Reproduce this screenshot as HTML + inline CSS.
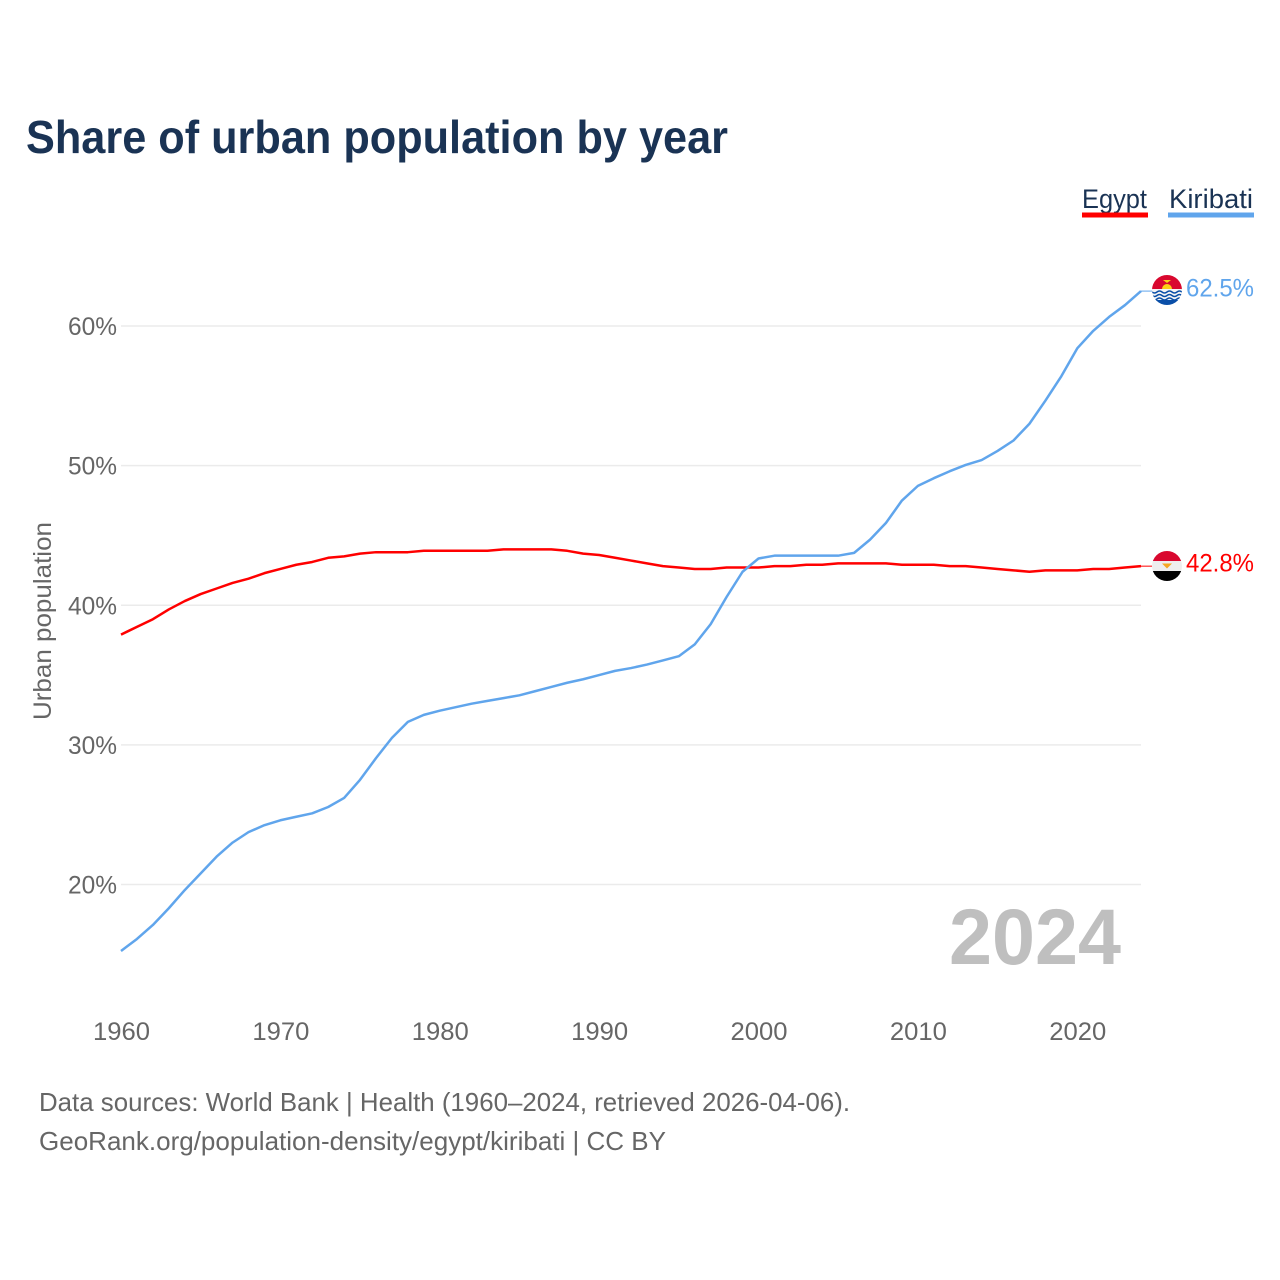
<!DOCTYPE html>
<html lang="en">
<head>
<meta charset="utf-8">
<title>Share of urban population by year</title>
<style>
html,body{margin:0;padding:0;background:#fff;width:1280px;height:1280px;overflow:hidden}
svg{display:block}
text{font-family:"Liberation Sans",sans-serif}
</style>
</head>
<body>
<svg id="chart" xmlns="http://www.w3.org/2000/svg" width="1280" height="1280" viewBox="0 0 1280 1280">
  <defs>
    <clipPath id="clip-ki"><circle cx="1167" cy="290" r="15"/></clipPath>
    <clipPath id="clip-eg"><circle cx="1167" cy="566" r="15"/></clipPath>
  </defs>
  <rect width="1280" height="1280" fill="#fff"/>
  <text x="26" y="153" font-size="46" font-weight="700" fill="#1a3354" textLength="702" lengthAdjust="spacingAndGlyphs">Share of urban population by year</text>

  <g>
    <g>
      <text x="1082" y="208" font-size="27" fill="#1a3354" textLength="65" lengthAdjust="spacingAndGlyphs">Egypt</text>
      <rect x="1082" y="212.5" width="66" height="5" fill="#ff0000"/>
    </g>
    <g>
      <text x="1169" y="208" font-size="27" fill="#1a3354" textLength="84" lengthAdjust="spacingAndGlyphs">Kiribati</text>
      <rect x="1168" y="212.5" width="86" height="5" fill="#60a5ec"/>
    </g>
  </g>

  <g id="grid"></g>
  <g id="yticks"></g>
  <g id="xticks"></g>
  <text transform="translate(51,621) rotate(-90)" text-anchor="middle" font-size="25" fill="#666" textLength="198" lengthAdjust="spacingAndGlyphs">Urban population</text>

  <text x="949" y="964" font-size="79" font-weight="700" fill="#bfbfbf" textLength="172" lengthAdjust="spacingAndGlyphs">2024</text>

  <g id="series"></g>

  <g clip-path="url(#clip-ki)">
    <rect x="1152" y="275" width="30" height="15" fill="#d9082f"/>
    <rect x="1152" y="289" width="30" height="12" fill="#f4f4f4"/>
    <rect x="1152" y="300" width="30" height="6" fill="#0a4fa8"/>
    <path d="M1162 289a5 5 0 0 1 10 0z" fill="#fcd116"/>
    <path d="M1163 280h8l-4 3z" fill="#fcd116"/>
    <path d="M1152 292q2.500 2 5 0t5 0t5 0t5 0t5 0t5 0" fill="none" stroke="#0a4fa8" stroke-width="1.500"/>
    <path d="M1152 295.500q2.500 2 5 0t5 0t5 0t5 0t5 0t5 0" fill="none" stroke="#0a4fa8" stroke-width="1.500"/>
    <path d="M1152 299q2.500 2 5 0t5 0t5 0t5 0t5 0t5 0" fill="none" stroke="#0a4fa8" stroke-width="1.500"/>
  </g>
  <g clip-path="url(#clip-eg)">
    <rect x="1152" y="551" width="30" height="10" fill="#d9082f"/>
    <rect x="1152" y="561" width="30" height="10" fill="#eeeeee"/>
    <rect x="1152" y="571" width="30" height="10" fill="#000"/>
    <path d="M1162 563.500h10l-3 3-2 2-2-2z" fill="#f5a623"/>
  </g>
  <text x="1186" y="296.500" font-size="25" fill="#60a5ec" textLength="68" lengthAdjust="spacingAndGlyphs">62.5%</text>
  <text x="1186" y="571.500" font-size="25" fill="#ff0000" textLength="68" lengthAdjust="spacingAndGlyphs">42.8%</text>

  <text x="39" y="1111" font-size="26" fill="#666" textLength="811" lengthAdjust="spacingAndGlyphs">Data sources: World Bank | Health (1960–2024, retrieved 2026-04-06).</text>
  <text x="39" y="1150" font-size="26" fill="#666" textLength="627" lengthAdjust="spacingAndGlyphs">GeoRank.org/population-density/egypt/kiribati | CC BY</text>
</svg>
<script>
const years = [1960,1961,1962,1963,1964,1965,1966,1967,1968,1969,1970,1971,1972,1973,1974,1975,1976,1977,1978,1979,1980,1981,1982,1983,1984,1985,1986,1987,1988,1989,1990,1991,1992,1993,1994,1995,1996,1997,1998,1999,2000,2001,2002,2003,2004,2005,2006,2007,2008,2009,2010,2011,2012,2013,2014,2015,2016,2017,2018,2019,2020,2021,2022,2023,2024];
const egyptValues = [37.9,38.45,39.0,39.7,40.3,40.8,41.2,41.6,41.9,42.3,42.6,42.9,43.1,43.4,43.5,43.7,43.8,43.8,43.8,43.9,43.9,43.9,43.9,43.9,44.0,44.0,44.0,44.0,43.9,43.7,43.6,43.4,43.2,43.0,42.8,42.7,42.6,42.6,42.7,42.7,42.7,42.8,42.8,42.9,42.9,43.0,43.0,43.0,43.0,42.9,42.9,42.9,42.8,42.8,42.7,42.6,42.5,42.4,42.5,42.5,42.5,42.6,42.6,42.7,42.8];
const kiribatiValues = [15.24,16.1,17.1,18.3,19.6,20.8,22.0,23.0,23.75,24.25,24.6,24.85,25.1,25.55,26.2,27.5,29.05,30.5,31.65,32.15,32.45,32.7,32.95,33.15,33.35,33.55,33.85,34.15,34.45,34.7,35.0,35.3,35.5,35.75,36.05,36.35,37.2,38.65,40.6,42.4,43.35,43.55,43.55,43.55,43.55,43.55,43.75,44.7,45.9,47.5,48.55,49.1,49.6,50.05,50.4,51.05,51.8,53.0,54.65,56.4,58.4,59.65,60.65,61.5,62.5];
const yTicks = [20,30,40,50,60];
const xTicks = [1960,1970,1980,1990,2000,2010,2020];

const NS = 'http://www.w3.org/2000/svg';
const xScale = function (year) { return 121 + (year - 1960) * (1141 - 121) / 64; };
const yScale = function (pct) { return 884.5 - (pct - 20) * (884.5 - 326) / 40; };

const gridGroup = document.getElementById('grid');
const yTickGroup = document.getElementById('yticks');
const xTickGroup = document.getElementById('xticks');
const seriesGroup = document.getElementById('series');

yTicks.forEach(function (tick) {
  const line = document.createElementNS(NS, 'line');
  line.setAttribute('x1', xScale(1960));
  line.setAttribute('x2', xScale(2024));
  line.setAttribute('y1', yScale(tick));
  line.setAttribute('y2', yScale(tick));
  line.setAttribute('stroke', '#ebebeb');
  line.setAttribute('stroke-width', '1.5');
  
  
  gridGroup.appendChild(line);

  const label = document.createElementNS(NS, 'text');
  label.setAttribute('x', 68);
  label.setAttribute('y', yScale(tick) + 9);
  label.setAttribute('font-size', '25');
  label.setAttribute('fill', '#666');
  label.setAttribute('textLength', '49');
  label.setAttribute('lengthAdjust', 'spacingAndGlyphs');
  
  
  label.textContent = tick + '%';
  yTickGroup.appendChild(label);
});

xTicks.forEach(function (tick) {
  const label = document.createElementNS(NS, 'text');
  label.setAttribute('x', xScale(tick) - 28);
  label.setAttribute('y', 1040);
  label.setAttribute('font-size', '25');
  label.setAttribute('fill', '#666');
  label.setAttribute('textLength', '57');
  label.setAttribute('lengthAdjust', 'spacingAndGlyphs');
  
  
  label.textContent = tick;
  xTickGroup.appendChild(label);
});

function linePath(values) {
  let d = '';
  values.forEach(function (v, i) {
    d += (i ? 'L' : 'M') + xScale(years[i]).toFixed(2) + ' ' + yScale(v).toFixed(2);
  });
  return d;
}

const egyptLine = document.createElementNS(NS, 'path');
egyptLine.setAttribute('d', linePath(egyptValues));
egyptLine.setAttribute('fill', 'none');
egyptLine.setAttribute('stroke', '#ff0000');
egyptLine.setAttribute('stroke-width', '2.5');
egyptLine.setAttribute('stroke-linejoin', 'round');


seriesGroup.appendChild(egyptLine);

const kiribatiLine = document.createElementNS(NS, 'path');
kiribatiLine.setAttribute('d', linePath(kiribatiValues));
kiribatiLine.setAttribute('fill', 'none');
kiribatiLine.setAttribute('stroke', '#60a5ec');
kiribatiLine.setAttribute('stroke-width', '2.5');
kiribatiLine.setAttribute('stroke-linejoin', 'round');


seriesGroup.appendChild(kiribatiLine);

const egyptEnd = document.createElementNS(NS, 'line');
egyptEnd.setAttribute('x1', xScale(2024));
egyptEnd.setAttribute('x2', 1152);
egyptEnd.setAttribute('y1', yScale(egyptValues[egyptValues.length - 1]));
egyptEnd.setAttribute('y2', yScale(egyptValues[egyptValues.length - 1]));
egyptEnd.setAttribute('stroke', '#ff0000');
egyptEnd.setAttribute('stroke-width', '1');


seriesGroup.appendChild(egyptEnd);

const kiribatiEnd = document.createElementNS(NS, 'line');
kiribatiEnd.setAttribute('x1', xScale(2024));
kiribatiEnd.setAttribute('x2', 1152);
kiribatiEnd.setAttribute('y1', yScale(kiribatiValues[kiribatiValues.length - 1]));
kiribatiEnd.setAttribute('y2', yScale(kiribatiValues[kiribatiValues.length - 1]));
kiribatiEnd.setAttribute('stroke', '#60a5ec');
kiribatiEnd.setAttribute('stroke-width', '1');


seriesGroup.appendChild(kiribatiEnd);
</script>
</body>
</html>
